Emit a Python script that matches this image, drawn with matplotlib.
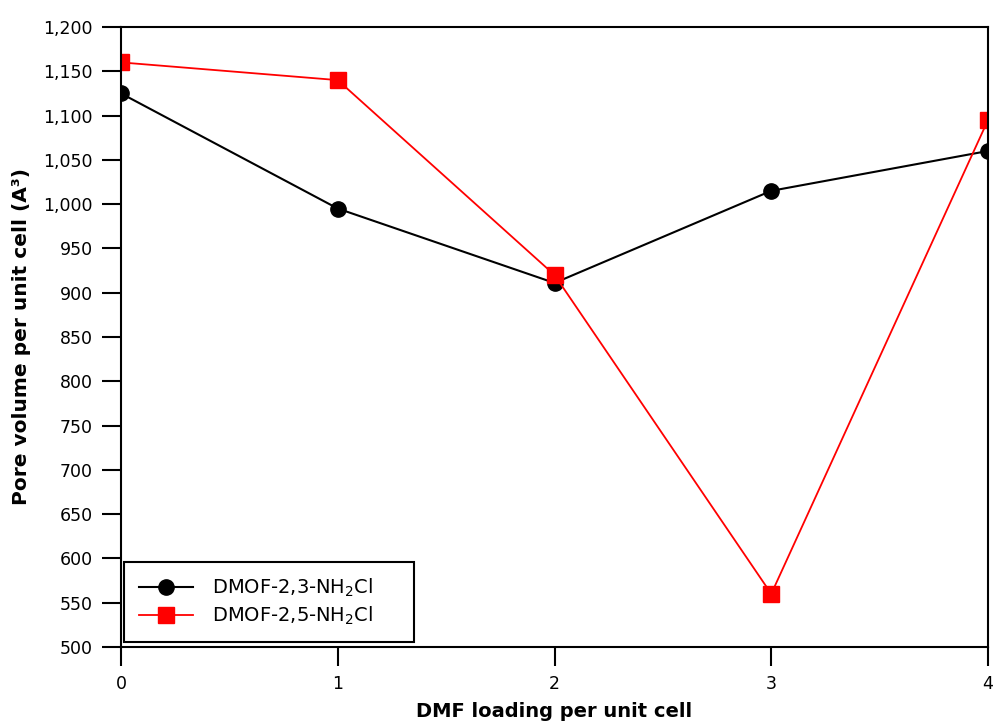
import matplotlib
matplotlib.use("Agg")
import matplotlib.pyplot as plt
from matplotlib.ticker import FuncFormatter

# DMF loading per unit cell
loading = [0, 1, 2, 3, 4]
vol_23 = [1125, 995, 911, 1015, 1060]
vol_25 = [1160, 1140, 920, 560, 1095]
labels = ["DMOF-2,3-NH$_2$Cl", "DMOF-2,5-NH$_2$Cl"]

fig = plt.figure(figsize=(9.95, 7.25), dpi=100)
ax = fig.add_axes([0.1216, 0.1076, 0.8714, 0.8552])

ax.plot(loading, vol_23, color="black", linewidth=1.5, marker="o", markersize=11,
        label=labels[0] + "     ")
ax.plot(loading, vol_25, color="red", linewidth=1.3, marker="s", markersize=11,
        label=labels[1] + "     ")

ax.set_xlim(0, 4)
ax.set_ylim(500, 1200)
ax.set_xticks(loading)
ax.set_yticks(range(500, 1201, 50))
ax.yaxis.set_major_formatter(FuncFormatter(lambda v, p: f"{int(v):,}"))
ax.tick_params(direction="out", length=13.5, width=1.5, pad=7, labelsize=12.5,
               top=False, right=False)
for s in ax.spines.values():
    s.set_linewidth(1.5)

ax.set_xlabel("DMF loading per unit cell", fontsize=14, fontweight="bold")
ax.set_ylabel("Pore volume per unit cell (A³)", fontsize=14.5, fontweight="bold")
ax.xaxis.set_label_coords(0.5, -0.088)
ax.yaxis.set_label_coords(-0.104, 0.5)

leg = ax.legend(loc="lower left", fontsize=14, fancybox=False, edgecolor="black",
                framealpha=1, borderpad=0.75, handlelength=2.8, handletextpad=1.0,
                labelspacing=0.3, borderaxespad=0, bbox_to_anchor=(0.0035, 0.008))
leg.get_frame().set_linewidth(1.5)

plt.savefig("out.png", dpi=100)
plt.close()
